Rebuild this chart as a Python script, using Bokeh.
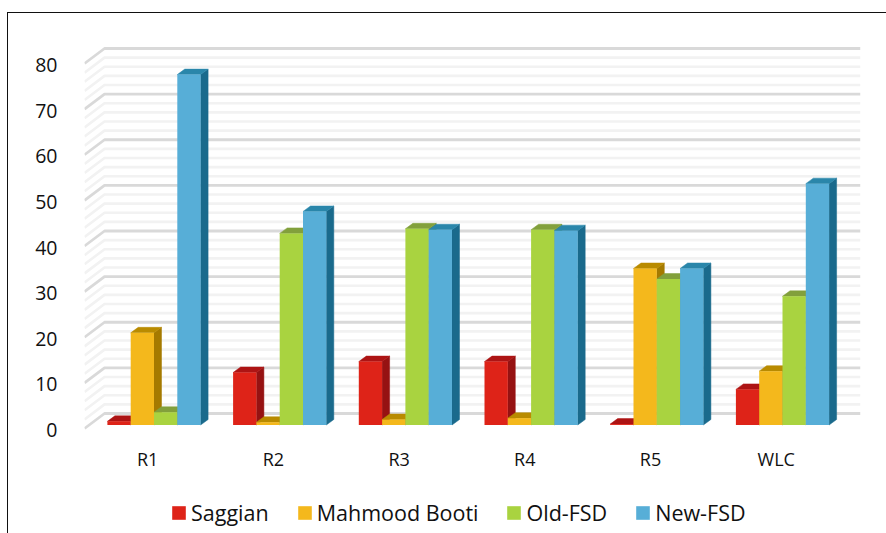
from bokeh.core.properties import value
from bokeh.embed import file_html
from bokeh.resources import INLINE
from bokeh.plotting import figure
from bokeh.models import Range1d, LinearAxis, FixedTicker, Legend, LegendItem

categories = ["R1", "R2", "R3", "R4", "R5", "WLC"]
saggian = [0.8, 11.5, 13.9, 13.9, 0.2, 7.8]
mahmood = [20.2, 0.6, 1.2, 1.5, 34.3, 11.8]
old_fsd = [2.8, 42.0, 43.0, 42.8, 32.0, 28.2]
new_fsd = [76.8, 46.8, 42.8, 42.6, 34.3, 52.9]
series_names = ["Saggian", "Mahmood Booti", "Old-FSD", "New-FSD"]
y_ticks = [0, 10, 20, 30, 40, 50, 60, 70, 80]

front_colors = ["#DE2318", "#F4B81C", "#A9D340", "#57AED7"]
top_colors = ["#AD1414", "#B98B00", "#82A03C", "#2A86AA"]
side_colors = ["#961212", "#A57A00", "#76942E", "#1A6A8C"]

# pixel geometry of the plot frame (it runs down to the page bottom so the legend fits inside)
W, H = 886, 533
L, R, T, B = 84, 26, 40, 0
frame_w, frame_h = W - L - R, H - T - B
px_x = 125.7           # pixels per category
px_y = 4.5625          # pixels per value unit
left_px, bot_px = 153.5 - 84, H - 424.5   # first group centre / bar base inside the frame
x0 = -left_px / px_x
x1 = x0 + frame_w / px_x
y0 = -bot_px / px_y
y1 = y0 + frame_h / px_y

p = figure(width=W, height=H, frame_width=frame_w, frame_height=frame_h,
           output_backend="svg", toolbar_location=None,
           x_range=Range1d(x0, x1), y_range=Range1d(y0, y1),
           x_axis_type=None, y_axis_type=None,
           min_border_left=L, min_border_right=R, min_border_top=T, min_border_bottom=B,
           background_fill_color="white", border_fill_color="white", outline_line_color=None)
p.grid.visible = False
# thin outer frame, open at right and bottom
p.stylesheets = [":host::after{content:'';position:absolute;left:7px;top:12px;right:-5px;bottom:-5px;"
                 "border-left:1.4px solid #111;border-top:1.4px solid #111;pointer-events:none;z-index:5}"]

# value axis lives on the front plane of the 3D box, slightly offset from the bars' plane
p.extra_y_ranges["front"] = Range1d(y0 + 5 / px_y, y1 + 5 / px_y)

FONT = "Open Sans"
ya = LinearAxis(y_range_name="front", ticker=FixedTicker(ticks=y_ticks))
ya.axis_line_color = None
ya.major_tick_line_color = None
ya.minor_tick_line_color = None
ya.major_label_standoff = 21
ya.major_label_text_font = FONT
ya.major_label_text_font_size = "19.5px"
ya.major_label_text_color = "#111111"
p.add_layout(ya, "left")

# category labels, under the front edge of the floor
label_dx, label_dy = 6.3 / px_x, 33.5 / px_y
p.text(x=[i - label_dx for i in range(len(categories))], y=[-label_dy] * len(categories),
       text=categories, text_align="center", text_baseline="middle",
       text_font=value(FONT), text_font_size="18px", text_color="#111111")

# walls: gridlines at the back and their slanted returns on the left wall
wall_dx = 20 / px_x
back_lift = (424.5 - 413) / px_y
front_drop = 3.5 / px_y
x_wall = x0 + wall_dx
x_end = x1
for step_vals, color, width in (
    ([v for v in range(0, 81, 2) if v % 10], "#F2F2F2", 2.6),
    (y_ticks, "#D9D9D9", 2.8),
):
    xs, ys = [], []
    for v in step_vals:
        xs.append([x0, x_wall, x_end])
        ys.append([v - front_drop, v + back_lift, v + back_lift])
    p.multi_line(xs, ys, line_color=color, line_width=width)

# bars: side, top and front face for each series, left to right
bar_w = 23.3 / px_x
dx, dy = 7.5 / px_x, 5.5 / px_y
items = []
for s, vals in enumerate([saggian, mahmood, old_fsd, new_fsd]):
    lefts = [i + (s - 2) * bar_w for i in range(len(vals))]
    rights = [l + bar_w for l in lefts]
    side_x = [[r, r + dx, r + dx, r] for r in rights]
    side_y = [[0, dy, v + dy, v] for v in vals]
    top_x = [[l, l + dx, r + dx, r] for l, r in zip(lefts, rights)]
    top_y = [[v, v + dy, v + dy, v] for v in vals]
    p.patches(side_x, side_y, fill_color=side_colors[s], line_color=side_colors[s], line_width=0.5)
    p.patches(top_x, top_y, fill_color=top_colors[s], line_color=top_colors[s], line_width=0.5)
    r = p.quad(left=lefts, right=rights, bottom=0, top=vals,
               fill_color=front_colors[s], line_color=None)
    items.append(LegendItem(label=series_names[s], renderers=[r]))

legend = Legend(items=items, orientation="horizontal", location=(86, 6),
                background_fill_alpha=0, border_line_color=None,
                label_text_font=FONT, label_text_font_size="21.5px", label_text_color="#111111",
                glyph_width=17, glyph_height=17, spacing=27, label_standoff=4,
                margin=0, padding=0)
p.add_layout(legend, "center")

open("out.html", "w").write(file_html(p, INLINE))
